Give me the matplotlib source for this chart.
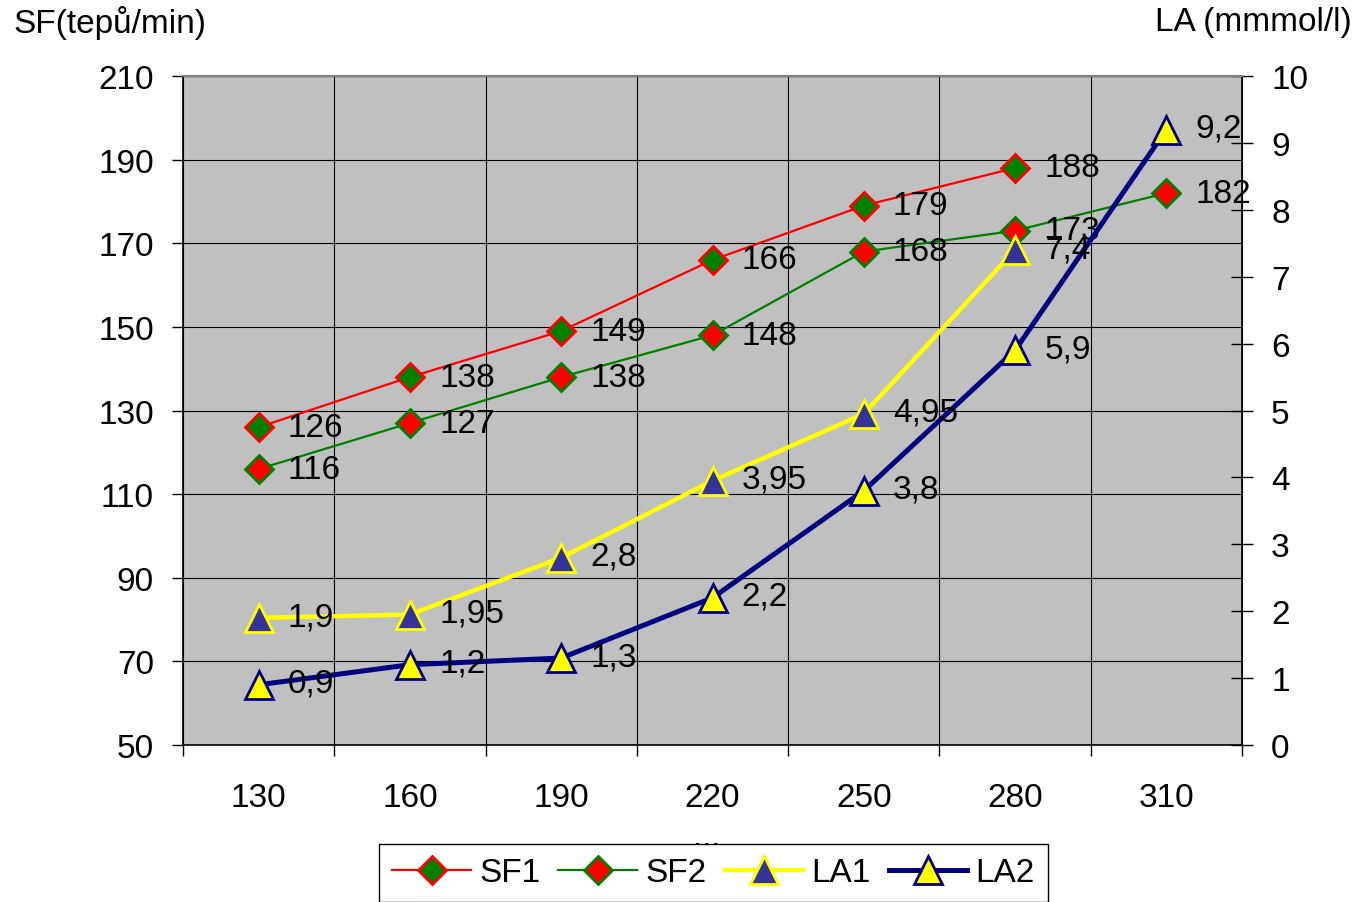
import numpy as np
import matplotlib
matplotlib.use("Agg")
import matplotlib.pyplot as plt
from matplotlib.ticker import FixedLocator

plt.rcParams['font.family'] = ['Liberation Sans', 'DejaVu Sans']

# data
categories = ['130', '160', '190', '220', '250', '280', '310']
sf1 = [126, 138, 149, 166, 179, 188]
sf2 = [116, 127, 138, 148, 168, 173, 182]
la1 = [1.9, 1.95, 2.8, 3.95, 4.95, 7.4]
la2 = [0.9, 1.2, 1.3, 2.2, 3.8, 5.9, 9.2]
sf1_labels = ['126', '138', '149', '166', '179', '188']
sf2_labels = ['116', '127', '138', '148', '168', '173', '182']
la1_labels = ['1,9', '1,95', '2,8', '3,95', '4,95', '7,4']
la2_labels = ['0,9', '1,2', '1,3', '2,2', '3,8', '5,9', '9,2']
sf_ticks = [50, 70, 90, 110, 130, 150, 170, 190, 210]
la_ticks = [0, 1, 2, 3, 4, 5, 6, 7, 8, 9, 10]

FS = 24
W, H = 1359, 903
fig = plt.figure(figsize=(W / 100, H / 100), dpi=100)
ax = fig.add_axes([183 / W, 1 - 746 / H, (1242 - 183) / W, (746 - 77) / H])
ax2 = ax.twinx()

x = np.arange(len(categories))

ax.set_facecolor('#C0C0C0')
ax.set_xlim(-0.5, len(categories) - 0.5)
ax.set_ylim(sf_ticks[0], sf_ticks[-1])
ax.yaxis.set_major_locator(FixedLocator(sf_ticks))
ax2.set_ylim(la_ticks[0], la_ticks[-1])
ax2.yaxis.set_major_locator(FixedLocator(la_ticks))

# category axis: labels at centres, ticks / grid at boundaries
ax.set_xticks(x)
ax.set_xticklabels(categories, fontsize=FS)
ax.xaxis.set_minor_locator(FixedLocator(np.arange(-0.5, len(categories), 1)))
ax.tick_params(axis='x', which='major', length=0, pad=27)
ax.tick_params(axis='x', which='minor', length=8, width=1, direction='out', color='black')
ax.grid(True, axis='x', which='minor', color='black', linewidth=0.8)
ax.grid(True, axis='y', which='major', color='black', linewidth=0.8)
ax.set_axisbelow(True)

ax.tick_params(axis='y', labelsize=FS, length=8, width=1, direction='out', pad=13)
ax2.tick_params(axis='y', labelsize=FS, length=16, width=1, direction='inout', pad=13)

for s in ['left', 'bottom']:
    ax.spines[s].set_color('black')
    ax.spines[s].set_linewidth(1.2)
ax2.spines['top'].set_color('#808080')
ax2.spines['top'].set_linewidth(1.5)
ax2.spines['right'].set_color('black')
ax2.spines['right'].set_linewidth(1.2)
ax2.spines['left'].set_visible(False)
ax2.spines['bottom'].set_visible(False)

l1, = ax.plot(x[:len(sf1)], sf1, color='red', lw=1.6, marker='D', ms=14,
              mfc='green', mec='red', mew=2, label='SF1', zorder=3)
l2, = ax.plot(x, sf2, color='green', lw=1.6, marker='D', ms=14,
              mfc='red', mec='green', mew=2, label='SF2', zorder=3)
l3, = ax2.plot(x[:len(la1)], la1, color='yellow', lw=3.2, marker='^', ms=19.5,
               mfc='#333399', mec='yellow', mew=2, label='LA1', zorder=3)
l4, = ax2.plot(x, la2, color='#000080', lw=3.6, marker='^', ms=19.5,
               mfc='yellow', mec='#000080', mew=2, label='LA2', zorder=4)

for xi, v, t in zip(x, sf1, sf1_labels):
    ax.annotate(t, (xi, v), xytext=(21, 0), textcoords='offset points',
                ha='left', va='center', fontsize=FS, zorder=6)
for xi, v, t in zip(x, sf2, sf2_labels):
    ax.annotate(t, (xi, v), xytext=(21, 0), textcoords='offset points',
                ha='left', va='center', fontsize=FS, zorder=6)
for xi, v, t in zip(x, la1, la1_labels):
    ax2.annotate(t, (xi, v), xytext=(21, 1), textcoords='offset points',
                 ha='left', va='center', fontsize=FS, zorder=6)
for xi, v, t in zip(x, la2, la2_labels):
    ax2.annotate(t, (xi, v), xytext=(21, 1), textcoords='offset points',
                 ha='left', va='center', fontsize=FS, zorder=6)

fig.text(13 / W, 1 - 23 / H, 'SF(tepů/min)', fontsize=FS, ha='left', va='center')
fig.text(1352 / W, 1 - 23 / H, 'LA (mmmol/l)', fontsize=FS, ha='right', va='center')
fig.text(707 / W, 1 - 839 / H, '...', fontsize=FS, ha='center', va='center')

leg = fig.legend(handles=[l1, l2, l3, l4], loc='upper left',
                 bbox_to_anchor=(379 / W, 1 - 845 / H), ncol=4, fontsize=FS,
                 frameon=True, fancybox=False, edgecolor='black', framealpha=1,
                 handlelength=2.35, handletextpad=0.25, columnspacing=0.55,
                 borderpad=0.4, borderaxespad=0)
leg.get_frame().set_linewidth(1)

fig.savefig('out.png', dpi=100)
